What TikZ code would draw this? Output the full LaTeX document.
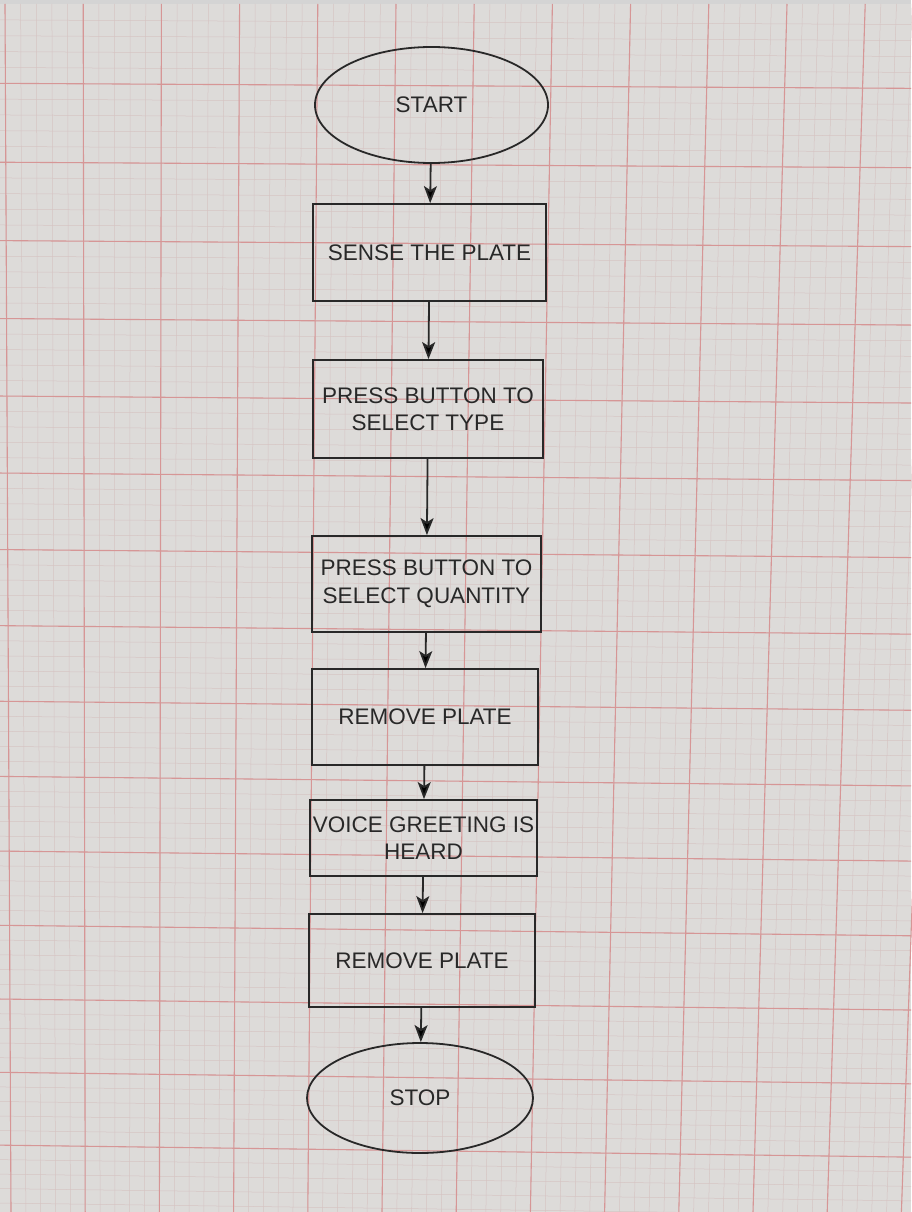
\documentclass[tikz,border=0pt]{standalone}
\usepackage{fontspec}
\setmainfont{Liberation Sans}
\usetikzlibrary{
  shapes.geometric, % Shape "ellipse"
  arrows.meta,
}
\definecolor{paper}{RGB}{221,219,217}
\definecolor{gridmajor}{RGB}{214,150,150}
\definecolor{gridminor}{RGB}{214,196,195}
\definecolor{ink}{RGB}{40,40,40}
\tikzset{
  font=\fontsize{22.5}{27.5}\selectfont,
  >={Stealth[length=17pt,width=13pt,inset=4pt]},
  major line/.style={
    draw=gridmajor,
    line width=1.1pt
  },
  minor line/.style={
    draw=gridminor,
    line width=0.5pt
  },
  my box/.style={
    draw=ink,
    text=ink,
    line width=1.8pt,
    inner sep=0pt,
    align=center,
    rectangle
  },
  my terminal/.style={
    my box,
    ellipse
  },
  my flow/.style={
    ->,
    draw=ink,
    line width=1.8pt
  }
}

\begin{document}
\begin{tikzpicture}[x=1pt,y=-1pt]
\useasboundingbox (0,0) rectangle (911,1212);
% paper
\fill[paper] (0,0) rectangle (911,1212);
\fill[black!17] (0,0) rectangle (911,4);
\foreach \j in {0,...,62}
  \draw[minor line] ({5+15.64*\j},4) -- ({11+14.84*\j},1212);
\foreach \m in {1,...,82}{
  \pgfmathsetmacro{\k}{\m/5}
  \draw[minor line] (0,{4+79.57*\k-0.233*\k*\k})
    -- (911,{8.5+80.07*\k-0.233*\k*\k});
}
\foreach \i in {0,...,12}
  \draw[major line] ({5+78.2*\i},4) -- ({11+74.2*\i},1212);
\foreach \k in {1,...,16}
  \draw[major line] (0,{4+79.57*\k-0.233*\k*\k})
    -- (911,{8.5+80.07*\k-0.233*\k*\k});
% flowchart
\node[my terminal,minimum width=233pt,minimum height=116pt] (start)   at (431.5,105) {START};
\node[my box,minimum width=233pt,minimum height=97pt]       (sense)   at (429.5,252.5) {SENSE THE PLATE};
\node[my box,minimum width=230pt,minimum height=98pt]       (type)    at (428,409) {PRESS BUTTON TO\\SELECT TYPE};
\node[my box,minimum width=229pt,minimum height=96pt]       (qty)     at (426.5,584) {PRESS BUTTON TO\\SELECT QUANTITY};
\node[my box,minimum width=226pt,minimum height=96pt]       (remove1) at (425,717) {REMOVE PLATE};
\node[my box,minimum width=227pt,minimum height=76pt]       (voice)   at (423.5,838) {VOICE GREETING IS\\HEARD};
\node[my box,minimum width=226pt,minimum height=93pt]       (remove2) at (422,960.5) {REMOVE PLATE};
\node[my terminal,minimum width=226pt,minimum height=110pt] (stop)    at (420,1098) {STOP};
\path[my flow] (start) edge (sense)
               (sense) edge (type)
               (type) edge (qty)
               (qty) edge (remove1)
               (remove1) edge (voice)
               (voice) edge (remove2)
               (remove2) edge (stop);
\end{tikzpicture}
\end{document}
